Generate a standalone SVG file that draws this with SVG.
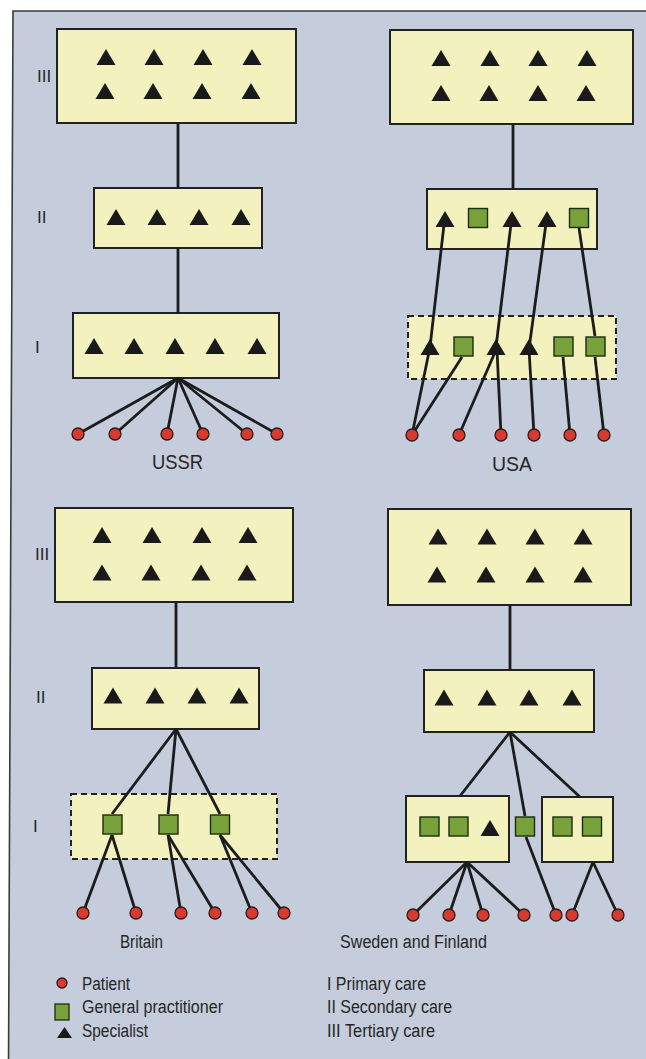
<svg xmlns="http://www.w3.org/2000/svg" xmlns:xlink="http://www.w3.org/1999/xlink" width="646" height="1059" viewBox="0 0 646 1059">
  <style>
    .box { fill: #f3f2bf; stroke: #222; stroke-width: 2; }
    .dash { fill: #f3f2bf; stroke: #222; stroke-width: 2; stroke-dasharray: 6 4; }
    .link { fill: none; stroke: #1c1c1c; stroke-width: 2.8; stroke-linejoin: round; stroke-linecap: butt; }
    .lbl { font-family: "Liberation Sans", Arial, sans-serif; font-size: 18px; fill: #262626; }
    .ttl { font-family: "Liberation Sans", Arial, sans-serif; font-size: 20px; fill: #262626; }
    .num { font-family: "Liberation Sans", Arial, sans-serif; font-size: 17px; fill: #262626; }
  </style>
  <defs>
    <path id="tri" d="M0,-8 L9.5,8 L-9.5,8 Z" fill="#1a1a1a"/>
    <rect id="gp" x="-9.5" y="-9.5" width="19" height="19" fill="#77a23a" stroke="#1e2a12" stroke-width="1.4"/>
    <circle id="pt" r="6" fill="#d93a2d" stroke="#2a1a1a" stroke-width="1.3"/>
  </defs>

  <!-- page background and frame -->
  <rect x="0" y="0" width="646" height="1059" fill="#ffffff"/>
  <path d="M13,11 L652,11 L652,1066 L8.5,1066 Z" fill="#c5cddc" stroke="#3a3a3a" stroke-width="1.6"/>

  <!-- USSR -->
  <g id="ussr-tertiary">
    <rect class="box" x="57" y="29" width="239" height="94"/>
    <use href="#tri" x="106" y="57"/><use href="#tri" x="154" y="57"/><use href="#tri" x="203" y="57"/><use href="#tri" x="252" y="57"/>
    <use href="#tri" x="105" y="91"/><use href="#tri" x="153" y="91"/><use href="#tri" x="202" y="91"/><use href="#tri" x="251" y="91"/>
  </g>
  <g id="ussr-secondary">
    <rect class="box" x="94" y="188" width="168" height="60"/>
    <use href="#tri" x="116" y="217"/><use href="#tri" x="157" y="217"/><use href="#tri" x="199" y="217"/><use href="#tri" x="241" y="217"/>
  </g>
  <g id="ussr-primary">
    <rect class="box" x="73" y="313" width="206" height="65"/>
    <use href="#tri" x="94" y="346"/><use href="#tri" x="134" y="346"/><use href="#tri" x="175" y="346"/><use href="#tri" x="215" y="346"/><use href="#tri" x="257" y="346"/>
  </g>

  <!-- USA -->
  <g id="usa-tertiary">
    <rect class="box" x="390" y="30" width="243" height="94"/>
    <use href="#tri" x="441" y="58"/><use href="#tri" x="490" y="58"/><use href="#tri" x="538" y="58"/><use href="#tri" x="587" y="58"/>
    <use href="#tri" x="441" y="93"/><use href="#tri" x="489" y="93"/><use href="#tri" x="538" y="93"/><use href="#tri" x="586" y="93"/>
  </g>
  <g id="usa-secondary">
    <rect class="box" x="427" y="189" width="170" height="60"/>
    <use href="#tri" x="445" y="219"/><use href="#gp" x="478" y="218"/><use href="#tri" x="512" y="219"/><use href="#tri" x="547" y="219"/><use href="#gp" x="579" y="218"/>
  </g>
  <g id="usa-primary">
    <rect class="dash" x="408" y="316" width="208" height="63"/>
    <use href="#tri" x="430" y="347"/><use href="#gp" x="463.5" y="346.5"/><use href="#tri" x="496" y="347"/><use href="#tri" x="529" y="347"/><use href="#gp" x="563.5" y="346.5"/><use href="#gp" x="595.5" y="346.5"/>
  </g>

  <!-- Britain -->
  <g id="britain-tertiary">
    <rect class="box" x="55" y="508" width="238" height="94"/>
    <use href="#tri" x="102" y="535"/><use href="#tri" x="152" y="535"/><use href="#tri" x="202" y="535"/><use href="#tri" x="248" y="535"/>
    <use href="#tri" x="102" y="572.5"/><use href="#tri" x="151" y="572.5"/><use href="#tri" x="201" y="572.5"/><use href="#tri" x="247" y="572.5"/>
  </g>
  <g id="britain-secondary">
    <rect class="box" x="92" y="668" width="167" height="61"/>
    <use href="#tri" x="113" y="695.5"/><use href="#tri" x="155" y="695.5"/><use href="#tri" x="197" y="695.5"/><use href="#tri" x="239" y="695.5"/>
  </g>
  <g id="britain-primary">
    <rect class="dash" x="71" y="794" width="206" height="65"/>
    <use href="#gp" x="112.5" y="824.5"/><use href="#gp" x="168.5" y="824.5"/><use href="#gp" x="220" y="824.5"/>
  </g>

  <!-- Sweden and Finland -->
  <g id="sweden-tertiary">
    <rect class="box" x="388" y="509" width="243" height="96"/>
    <use href="#tri" x="438" y="536.5"/><use href="#tri" x="487" y="536.5"/><use href="#tri" x="535" y="536.5"/><use href="#tri" x="583" y="536.5"/>
    <use href="#tri" x="437" y="574.5"/><use href="#tri" x="486" y="574.5"/><use href="#tri" x="535" y="574.5"/><use href="#tri" x="583" y="574.5"/>
  </g>
  <g id="sweden-secondary">
    <rect class="box" x="424" y="670" width="170" height="62"/>
    <use href="#tri" x="444" y="697.5"/><use href="#tri" x="487" y="697.5"/><use href="#tri" x="529" y="697.5"/><use href="#tri" x="572" y="697.5"/>
  </g>
  <g id="sweden-primary-left">
    <rect class="box" x="406" y="796" width="103" height="66"/>
    <use href="#gp" x="429.5" y="826.5"/><use href="#gp" x="458.5" y="826.5"/><use href="#tri" x="490" y="828"/>
  </g>
  <g id="sweden-primary-single">
    <use href="#gp" x="525" y="826.5"/>
  </g>
  <g id="sweden-primary-right">
    <rect class="box" x="542" y="797" width="71" height="65"/>
    <use href="#gp" x="562.5" y="826.5"/><use href="#gp" x="592" y="826.5"/>
  </g>

  <!-- connectors -->
  <g id="connectors" class="link">
    <!-- USSR -->
    <line x1="178" y1="123" x2="178" y2="188"/>
    <line x1="178" y1="248" x2="178" y2="313"/>
    <line x1="178" y1="378" x2="78" y2="434"/>
    <line x1="178" y1="378" x2="115" y2="434"/>
    <line x1="178" y1="378" x2="167" y2="434"/>
    <line x1="178" y1="378" x2="203" y2="434"/>
    <line x1="178" y1="378" x2="247" y2="434"/>
    <line x1="178" y1="378" x2="277" y2="434"/>
    <!-- USA -->
    <line x1="513" y1="124" x2="513" y2="189"/>
    <polyline points="412,435 430,347 445,216"/>
    <line x1="412" y1="435" x2="462" y2="357"/>
    <line x1="459" y1="435" x2="496" y2="350"/>
    <line x1="501" y1="435" x2="497" y2="350"/>
    <line x1="496" y1="347" x2="512" y2="216"/>
    <polyline points="534,435 529,349 547,216"/>
    <line x1="570" y1="435" x2="563" y2="357"/>
    <line x1="604" y1="435" x2="595" y2="357"/>
    <line x1="595" y1="336" x2="579" y2="228"/>
    <!-- Britain -->
    <line x1="176" y1="602" x2="176" y2="668"/>
    <line x1="176" y1="729" x2="112" y2="814"/>
    <line x1="176" y1="729" x2="168" y2="814"/>
    <line x1="176" y1="729" x2="220" y2="814"/>
    <line x1="112" y1="835" x2="83" y2="913"/>
    <line x1="112" y1="835" x2="136" y2="913"/>
    <line x1="168" y1="835" x2="181" y2="913"/>
    <line x1="168" y1="835" x2="215" y2="913"/>
    <line x1="220" y1="835" x2="252" y2="913"/>
    <line x1="220" y1="835" x2="284" y2="913"/>
    <!-- Sweden and Finland -->
    <line x1="510" y1="605" x2="510" y2="670"/>
    <line x1="510" y1="732" x2="460" y2="796"/>
    <line x1="510" y1="732" x2="525" y2="816"/>
    <line x1="510" y1="732" x2="580" y2="797"/>
    <line x1="526" y1="837" x2="556" y2="915"/>
    <line x1="467" y1="862" x2="413" y2="915"/>
    <line x1="467" y1="862" x2="449" y2="915"/>
    <line x1="467" y1="862" x2="483" y2="915"/>
    <line x1="467" y1="862" x2="524" y2="915"/>
    <line x1="593" y1="862" x2="572" y2="915"/>
    <line x1="593" y1="862" x2="618" y2="915"/>
  </g>

  <!-- patients -->
  <g id="ussr-patients">
    <use href="#pt" x="78" y="434"/><use href="#pt" x="115" y="434"/><use href="#pt" x="167" y="434"/>
    <use href="#pt" x="203" y="434"/><use href="#pt" x="247" y="434"/><use href="#pt" x="277" y="434"/>
  </g>
  <g id="usa-patients">
    <use href="#pt" x="412" y="435"/><use href="#pt" x="459" y="435"/><use href="#pt" x="501" y="435"/>
    <use href="#pt" x="534" y="435"/><use href="#pt" x="570" y="435"/><use href="#pt" x="604" y="435"/>
  </g>
  <g id="britain-patients">
    <use href="#pt" x="83" y="913"/><use href="#pt" x="136" y="913"/><use href="#pt" x="181" y="913"/>
    <use href="#pt" x="215" y="913"/><use href="#pt" x="252" y="913"/><use href="#pt" x="284" y="913"/>
  </g>
  <g id="sweden-patients">
    <use href="#pt" x="413" y="915"/><use href="#pt" x="449" y="915"/><use href="#pt" x="483" y="915"/><use href="#pt" x="524" y="915"/>
    <use href="#pt" x="556" y="915"/><use href="#pt" x="572" y="915"/><use href="#pt" x="618" y="915"/>
  </g>

  <!-- level numerals -->
  <g id="levels">
    <text class="num" x="37" y="82">III</text>
    <text class="num" x="37" y="223">II</text>
    <text class="num" x="35" y="353">I</text>
    <text class="num" x="35" y="560">III</text>
    <text class="num" x="36" y="703">II</text>
    <text class="num" x="33" y="832">I</text>
  </g>

  <!-- panel titles -->
  <g id="titles">
    <text class="ttl" x="152" y="469" textLength="51" lengthAdjust="spacingAndGlyphs">USSR</text>
    <text class="ttl" x="492" y="471" textLength="40" lengthAdjust="spacingAndGlyphs">USA</text>
    <text class="lbl" x="120" y="948" textLength="43" lengthAdjust="spacingAndGlyphs">Britain</text>
    <text class="lbl" x="340" y="948" textLength="147" lengthAdjust="spacingAndGlyphs">Sweden and Finland</text>
  </g>

  <!-- key -->
  <g id="legend">
    <circle cx="62" cy="983" r="5" fill="#d93a2d" stroke="#2a1a1a" stroke-width="1.3"/>
    <rect x="55" y="1004" width="14" height="16" fill="#77a23a" stroke="#1e2a12" stroke-width="1.3"/>
    <path d="M64.5,1027 L72,1038 L57,1038 Z" fill="#1a1a1a"/>
    <text class="lbl" x="82" y="990" textLength="48" lengthAdjust="spacingAndGlyphs">Patient</text>
    <text class="lbl" x="82" y="1013" textLength="141" lengthAdjust="spacingAndGlyphs">General practitioner</text>
    <text class="lbl" x="82" y="1037" textLength="66" lengthAdjust="spacingAndGlyphs">Specialist</text>
    <text class="lbl" x="327" y="990" textLength="99" lengthAdjust="spacingAndGlyphs">I Primary care</text>
    <text class="lbl" x="327" y="1013" textLength="125" lengthAdjust="spacingAndGlyphs">II Secondary care</text>
    <text class="lbl" x="327" y="1037" textLength="108" lengthAdjust="spacingAndGlyphs">III Tertiary care</text>
  </g>
</svg>
